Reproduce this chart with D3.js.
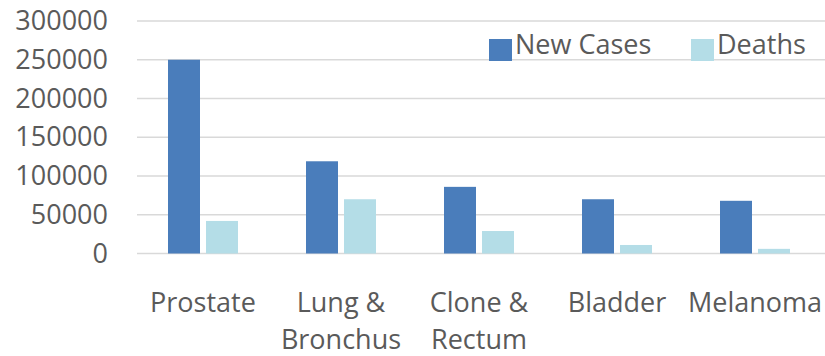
<!DOCTYPE html>
<html>
<head>
<meta charset="utf-8">
<script src="https://cdn.jsdelivr.net/npm/d3@7"></script>
<style>
  html, body { margin: 0; padding: 0; background: #fff; }
  svg { display: block; }
</style>
</head>
<body>
<svg id="chart"></svg>
<script>
    'use strict';

    var categories = [['Prostate'], ['Lung &', 'Bronchus'], ['Clone &', 'Rectum'], ['Bladder'], ['Melanoma']];
    var seriesNames = ['New Cases', 'Deaths'];
    var newCases = [250000, 119000, 86000, 70000, 68000];
    var deaths = [42000, 70000, 29000, 11000, 6000];
    var yTicks = [0, 50000, 100000, 150000, 200000, 250000, 300000];

    (function () {
        var colors = ['#4a7dbb', '#b4dde7'];
        var textColor = '#5a5a5a';
        var font = '"Open Sans", sans-serif';

        var width = 825, height = 356;
        var gridLeft = 137;
        var plotLeft = 134, plotRight = 824, plotTop = 21, plotBottom = 253.5;

        var svg = d3.select('#chart')
            .attr('width', width)
            .attr('height', height);

        var scaleX = d3.scaleBand()
            .domain(d3.range(categories.length))
            .range([plotLeft, plotRight])
            .paddingInner(0)
            .paddingOuter(0);

        var scaleY = d3.scaleLinear()
            .domain([0, 300000])
            .range([plotBottom, plotTop]);

        var barWidth = 32, barGap = 6;
        var groupWidth = barWidth * 2 + barGap;

        // gridlines
        svg.append('g')
            .selectAll('line')
            .data(yTicks)
            .enter().append('line')
            .attr('x1', gridLeft)
            .attr('x2', width)
            .attr('y1', function (d) { return scaleY(d); })
            .attr('y2', function (d) { return scaleY(d); })
            .attr('stroke', '#d9d9d9')
            .attr('stroke-width', 1.5);

        // y axis labels
        var yAxis = svg.append('g')
            .attr('transform', 'translate(108,0)')
            .call(d3.axisLeft(scaleY).tickValues(yTicks).tickSize(0).tickPadding(0).tickFormat(d3.format('d')));
        yAxis.select('.domain').remove();
        yAxis.selectAll('text')
            .attr('fill', textColor)
            .attr('font-size', 27)
            .attr('font-family', font);

        // bars
        [newCases, deaths].forEach(function (values, s) {
            svg.append('g')
                .selectAll('rect')
                .data(values)
                .enter().append('rect')
                .attr('x', function (d, i) {
                    return scaleX(i) + scaleX.bandwidth() / 2 - groupWidth / 2 + s * (barWidth + barGap);
                })
                .attr('y', function (d) { return scaleY(d); })
                .attr('width', barWidth)
                .attr('height', function (d) { return scaleY(0) - scaleY(d); })
                .attr('fill', colors[s]);
        });

        // category labels
        var catGroup = svg.append('g');
        categories.forEach(function (lines, i) {
            var t = catGroup.append('text')
                .attr('text-anchor', 'middle')
                .attr('fill', textColor)
                .attr('font-size', 27)
                .attr('font-family', font);
            lines.forEach(function (line, j) {
                t.append('tspan')
                    .attr('x', scaleX(i) + scaleX.bandwidth() / 2)
                    .attr('y', 312 + j * 37)
                    .text(line);
            });
        });

        // legend
        var legendX = [489, 691];
        var legend = svg.append('g');
        seriesNames.forEach(function (name, i) {
            legend.append('rect')
                .attr('x', legendX[i])
                .attr('y', 39)
                .attr('width', 23)
                .attr('height', 22)
                .attr('fill', colors[i]);
            legend.append('text')
                .attr('x', legendX[i] + 26)
                .attr('y', 54)
                .attr('fill', textColor)
                .attr('font-size', 27)
                .attr('font-family', font)
                .text(name);
        });
    })();
</script>
</body>
</html>
